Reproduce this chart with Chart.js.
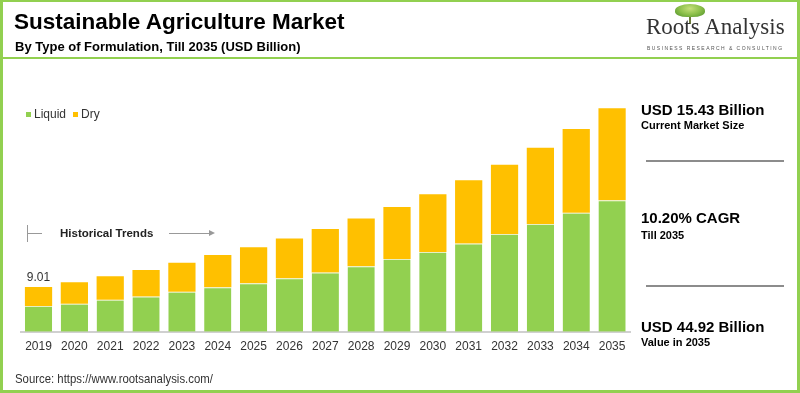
<!DOCTYPE html>
<html>
<head>
<meta charset="utf-8">
<script src="https://cdn.jsdelivr.net/npm/chart.js@4.4.1/dist/chart.umd.min.js"></script>
<style>
  html, body { margin:0; padding:0; }
  body { width:800px; height:393px; position:relative; overflow:hidden; background:#fff; font-family:"Liberation Sans", Arial, sans-serif; color:#000; }
  .frame { position:absolute; left:0; top:0; width:800px; height:393px; box-sizing:border-box; border-left:3px solid #92d050; border-right:3px solid #92d050; border-top:2px solid #92d050; border-bottom:3px solid #92d050; pointer-events:none; }
  .hline { position:absolute; left:0; width:800px; top:57px; height:2px; background:#92d050; }
  .t { position:absolute; white-space:nowrap; }
  #c { position:absolute; left:0; top:0; }
  .sep { position:absolute; height:2px; background:#8c8c8c; }
</style>
</head>
<body>
<canvas id="c" width="800" height="393"></canvas>
<div class="frame"></div>
<div class="hline"></div>

<div class="t" style="left:14px; top:9px; font-size:22.5px; font-weight:bold; line-height:26px;">Sustainable Agriculture Market</div>
<div class="t" style="left:15px; top:39px; font-size:13px; font-weight:bold; line-height:16px;">By Type of Formulation, Till 2035 (USD Billion)</div>

<!-- logo -->
<div style="position:absolute; left:689px; top:12px; width:2px; height:12px; background:#6b7a3a;"></div>
<div style="position:absolute; left:675px; top:4px; width:30px; height:13px; border-radius:50% 50% 40% 40%; background:radial-gradient(ellipse at 50% 35%, #c6e07a 0%, #8cc04a 50%, #4f8f2a 100%);"></div>
<div class="t" style="left:646px; top:15px; font-family:'Liberation Serif', 'Times New Roman', serif; font-size:23px; line-height:24px; color:#333;">Roots Analysis</div>
<div class="t" style="left:647px; top:45px; font-size:5px; line-height:6px; letter-spacing:1.45px; color:#555;">BUSINESS RESEARCH &amp; CONSULTING</div>

<!-- legend -->
<div style="position:absolute; left:26px; top:112px; width:5px; height:5px; background:#92d050;"></div>
<div class="t" style="left:34px; top:107px; font-size:12px; line-height:14px; color:#333;">Liquid</div>
<div style="position:absolute; left:73px; top:112px; width:5px; height:5px; background:#ffc000;"></div>
<div class="t" style="left:81px; top:107px; font-size:12px; line-height:14px; color:#333;">Dry</div>

<!-- historical trends -->
<div style="position:absolute; left:27px; top:225px; width:1px; height:17px; background:#999;"></div>
<div style="position:absolute; left:27px; top:233px; width:15px; height:1px; background:#999;"></div>
<div class="t" style="left:60px; top:226px; font-size:11.5px; font-weight:bold; line-height:14px; color:#222;">Historical Trends</div>
<div style="position:absolute; left:169px; top:233px; width:42px; height:1px; background:#999;"></div>
<div style="position:absolute; left:209px; top:230px; width:0; height:0; border-top:3.5px solid transparent; border-bottom:3.5px solid transparent; border-left:6px solid #999;"></div>

<!-- right panel -->
<div class="t" style="left:641px; top:101px; font-size:15px; font-weight:bold; line-height:18px;">USD 15.43 Billion</div>
<div class="t" style="left:641px; top:118px; font-size:11px; font-weight:bold; line-height:14px;">Current Market Size</div>
<div class="sep" style="left:646px; top:160px; width:138px;"></div>
<div class="t" style="left:641px; top:209px; font-size:15px; font-weight:bold; line-height:18px;">10.20% CAGR</div>
<div class="t" style="left:641px; top:228px; font-size:11px; font-weight:bold; line-height:14px;">Till 2035</div>
<div class="sep" style="left:646px; top:285px; width:138px;"></div>
<div class="t" style="left:641px; top:318px; font-size:15px; font-weight:bold; line-height:18px;">USD 44.92 Billion</div>
<div class="t" style="left:641px; top:335px; font-size:11px; font-weight:bold; line-height:14px;">Value in 2035</div>

<div class="t" style="left:15px; top:371px; font-size:13px; line-height:15px; color:#333; transform:scaleX(0.875); transform-origin:0 0;">Source: https://www.rootsanalysis.com/</div>

<script>
const years = ["2019","2020","2021","2022","2023","2024","2025","2026","2027","2028","2029","2030","2031","2032","2033","2034","2035"];
const liquid = [5.15, 5.62, 6.42, 7.08, 8.02, 8.93, 9.72, 10.76, 11.90, 13.17, 14.60, 16.03, 17.75, 19.64, 21.63, 23.93, 26.42];
const dry = [3.86, 4.33, 4.71, 5.31, 5.83, 6.50, 7.28, 7.99, 8.75, 9.59, 10.48, 11.61, 12.71, 13.92, 15.36, 16.83, 18.50];
const labelledIndex = [0];

const totalLabel = {
  id: 'totalLabel',
  afterDatasetsDraw(chart) {
    const ctx = chart.ctx;
    const meta = chart.getDatasetMeta(1);
    ctx.save();
    ctx.font = '12px "Liberation Sans", Arial, sans-serif';
    ctx.fillStyle = '#333';
    ctx.textAlign = 'center';
    ctx.textBaseline = 'middle';
    labelledIndex.forEach(i => {
      const el = meta.data[i];
      const total = liquid[i] + dry[i];
      ctx.fillText(total.toFixed(2), el.x, el.y - 9);
    });
    ctx.restore();
  }
};

new Chart(document.getElementById('c'), {
  type: 'bar',
  data: {
    labels: years,
    datasets: [
      { label: 'Liquid', data: liquid, backgroundColor: '#92d050', borderColor: '#e6efc4', borderWidth: {top:1, left:0, right:0, bottom:0}, borderSkipped: false },
      { label: 'Dry', data: dry, backgroundColor: '#ffc000', borderWidth: 0 }
    ]
  },
  options: {
    responsive: false,
    animation: false,
    devicePixelRatio: 1,
    layout: { padding: { left: 20.6, right: 170, top: 83, bottom: 31.3 } },
    plugins: { legend: { display: false }, tooltip: { enabled: false } },
    datasets: { bar: { categoryPercentage: 1, barPercentage: 0.76 } },
    scales: {
      x: {
        stacked: true,
        grid: { display: false, drawTicks: false },
        border: { display: true, color: '#d0d0d0', width: 2 },
        ticks: { color: '#333', font: { family: '"Liberation Sans", Arial, sans-serif', size: 12 }, padding: 8, maxRotation: 0, autoSkip: false },
        afterFit(scale) { scale.height = 30; }
      },
      y: {
        stacked: true,
        display: false,
        min: 0,
        max: 50
      }
    }
  },
  plugins: [totalLabel]
});
</script>
</body>
</html>
